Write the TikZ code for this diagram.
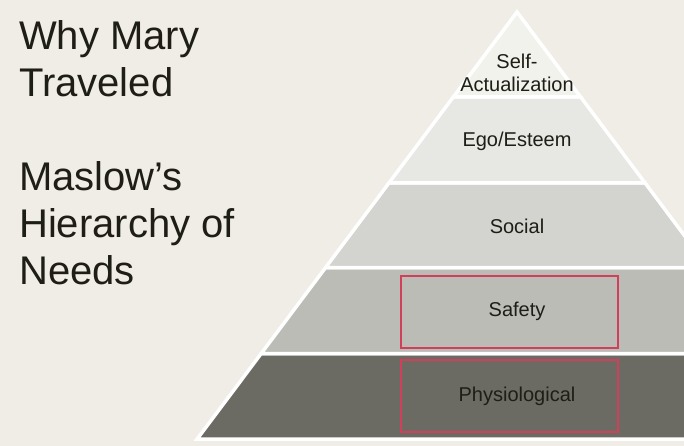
\documentclass[tikz,border=0pt]{standalone}
\usepackage{fontspec}
\setmainfont{Liberation Sans}
\definecolor{bg}{HTML}{EFEDE6}
\definecolor{lvA}{HTML}{F2F2EC}
\definecolor{lvB}{HTML}{E7E7E3}
\definecolor{lvC}{HTML}{D3D3CF}
\definecolor{lvD}{HTML}{BBBCB6}
\definecolor{lvE}{HTML}{6B6B63}
\definecolor{hl}{HTML}{D23F5A}
\definecolor{ink}{HTML}{1E1E16}
\tikzset{
  layer/.style={draw=white, line width=3.5pt, line join=miter},
  lbl/.style={text=ink, font=\fontsize{20}{23}\selectfont, align=center, inner sep=0pt},
  ttl/.style={text=ink, font=\fontsize{40}{47}\selectfont, align=left, anchor=north west, inner sep=0pt},
  hlbox/.style={draw=hl, line width=2.2pt}
}
\begin{document}
\begin{tikzpicture}[x=1pt,y=-1pt]
\useasboundingbox (0,0) rectangle (684,446);
\clip (0,0) rectangle (684,446);
\fill[bg] (0,0) rectangle (684,446);
% pyramid layers: x(y) = 517 -/+ 0.749*(y-12)
\def\xl#1{\fpeval{517-0.749*(#1-12)}}
\def\xr#1{\fpeval{517+0.749*(#1-12)}}
\fill[lvE, layer] (\xl{353.5},353.5) -- (\xr{353.5},353.5) -- (\xr{439},439) -- (\xl{439},439) -- cycle;
\fill[lvD, layer] (\xl{267.5},267.5) -- (\xr{267.5},267.5) -- (\xr{353.5},353.5) -- (\xl{353.5},353.5) -- cycle;
\fill[lvC, layer] (\xl{183},183) -- (\xr{183},183) -- (\xr{267.5},267.5) -- (\xl{267.5},267.5) -- cycle;
\fill[lvB, layer] (\xl{97},97) -- (\xr{97},97) -- (\xr{183},183) -- (\xl{183},183) -- cycle;
\fill[lvA, layer] (517,12) -- (\xr{97},97) -- (\xl{97},97) -- cycle;
% highlight boxes
\draw[hlbox] (400.7,275.7) rectangle (618,347.7);
\draw[hlbox] (400.7,360) rectangle (618,431.7);
% labels
\node[lbl] (self) at (517,73) {Self-\\Actualization};
\node[lbl] (ego) at (517,141) {Ego/Esteem};
\node[lbl] (social) at (517,226) {Social};
\node[lbl] (safety) at (517,311) {Safety};
\node[lbl] (phys) at (517,396) {Physiological};
% title
\node[ttl] (title) at (19,20) {Why Mary\\Traveled\\[47pt]Maslow’s\\Hierarchy of\\Needs};
\end{tikzpicture}
\end{document}
